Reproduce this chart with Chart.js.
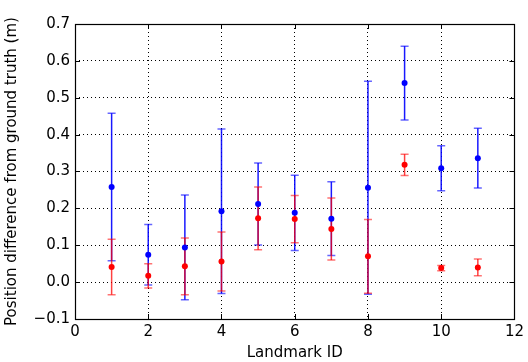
<!DOCTYPE html>
<html>
<head>
<meta charset="utf-8">
<script src="https://cdn.jsdelivr.net/npm/chart.js@4/dist/chart.umd.min.js"></script>
<style>
  html, body { margin: 0; padding: 0; background: #fff; }
  #wrap { width: 528px; height: 362px; }
</style>
</head>
<body>
<div id="wrap"><canvas id="errChart"></canvas></div>
<script>
// landmark ids and measured position differences (m)
const landmarks = [1, 2, 3, 4, 5, 6, 7, 8, 9, 10, 11];
const blueMean = [0.258, 0.074, 0.094, 0.192, 0.212, 0.188, 0.172, 0.256, 0.540, 0.309, 0.336];
const blueErr  = [0.200, 0.082, 0.142, 0.223, 0.111, 0.102, 0.100, 0.289, 0.100, 0.061, 0.081];
const redMean  = [0.041, 0.017, 0.043, 0.056, 0.173, 0.171, 0.144, 0.070, 0.318, 0.038, 0.040];
const redErr   = [0.075, 0.033, 0.077, 0.080, 0.085, 0.064, 0.084, 0.100, 0.029, 0.007, 0.023];
const xTicks = [0, 2, 4, 6, 8, 10, 12];
const yTicks = [-0.1, 0, 0.1, 0.2, 0.3, 0.4, 0.5, 0.6, 0.7];

const toPoints = (ys, errs) => landmarks.map((x, i) => ({ x: x, y: ys[i], err: errs[i] }));

const errorBars = {
  id: 'errorBars',
  beforeDatasetsDraw(chart) {
    const { ctx, scales: { x, y } } = chart;
    const styles = [
      { ds: 1, color: 'rgba(0,0,255,0.9)', cap: 'rgba(0,0,255,0.6)' },
      { ds: 0, color: 'rgba(255,0,0,0.75)', cap: 'rgba(255,0,0,0.55)' }
    ];
    ctx.save();
    ctx.lineWidth = 1.5;
    styles.forEach(s => {
      chart.data.datasets[s.ds].data.forEach(p => {
        const px = x.getPixelForValue(p.x);
        const top = y.getPixelForValue(p.y + p.err);
        const bot = y.getPixelForValue(p.y - p.err);
        ctx.strokeStyle = s.color;
        ctx.beginPath();
        ctx.moveTo(px, top);
        ctx.lineTo(px, bot);
        ctx.stroke();
        ctx.strokeStyle = s.cap;
        ctx.beginPath();
        ctx.moveTo(px - 4, top); ctx.lineTo(px + 4, top);
        ctx.moveTo(px - 4, bot); ctx.lineTo(px + 4, bot);
        ctx.stroke();
      });
    });
    ctx.restore();
  },
  afterDraw(chart) {
    const { ctx, chartArea: a, scales: { x, y } } = chart;
    ctx.save();
    ctx.strokeStyle = '#000';
    ctx.lineWidth = 1;
    // inward ticks on all sides
    ctx.beginPath();
    xTicks.forEach(v => {
      const px = Math.round(x.getPixelForValue(v)) + 0.5;
      ctx.moveTo(px, a.bottom); ctx.lineTo(px, a.bottom - 5);
      ctx.moveTo(px, a.top); ctx.lineTo(px, a.top + 5);
    });
    yTicks.forEach(v => {
      const py = Math.round(y.getPixelForValue(v)) + 0.5;
      ctx.moveTo(a.left, py); ctx.lineTo(a.left + 5, py);
      ctx.moveTo(a.right, py); ctx.lineTo(a.right - 5, py);
    });
    ctx.stroke();
    ctx.lineWidth = 1.2;
    ctx.strokeRect(Math.round(a.left) + 0.5, Math.round(a.top) + 0.5,
      Math.round(a.right - a.left), Math.round(a.bottom - a.top));
    ctx.restore();
  }
};

Chart.defaults.font.family = '"DejaVu Sans", sans-serif';
Chart.defaults.color = '#000';

new Chart(document.getElementById('errChart').getContext('2d'), {
  type: 'scatter',
  data: {
    datasets: [
      {
        label: 'red',
        data: toPoints(redMean, redErr),
        backgroundColor: 'rgb(255,0,0)',
        borderWidth: 0,
        pointRadius: 3
      },
      {
        label: 'blue',
        data: toPoints(blueMean, blueErr),
        backgroundColor: 'rgb(0,0,255)',
        borderWidth: 0,
        pointRadius: 3
      }
    ]
  },
  options: {
    responsive: true,
    maintainAspectRatio: false,
    animation: false,
    layout: { padding: { top: 24, right: 9, left: 0, bottom: 0 } },
    plugins: {
      legend: { display: false },
      tooltip: { enabled: false }
    },
    scales: {
      x: {
        type: 'linear',
        min: 0,
        max: 12,
        afterBuildTicks: s => { s.ticks = xTicks.map(v => ({ value: v })); },
        afterFit: s => { s.height = 43; },
        ticks: { font: { size: 15 }, padding: 4, maxRotation: 0 },
        grid: { color: '#000', lineWidth: 1, drawTicks: false, tickLength: 0 },
        border: { display: false, dash: [1, 3] },
        title: { display: true, text: 'Landmark ID', font: { size: 15 }, padding: { top: 0, bottom: 0 } }
      },
      y: {
        min: -0.1,
        max: 0.7,
        afterBuildTicks: s => { s.ticks = yTicks.map(v => ({ value: v })); },
        afterFit: s => { s.width = 75; },
        ticks: {
          font: { size: 15 },
          padding: 5,
          callback: v => (Math.abs(v) < 1e-9 ? '0.0' : v.toFixed(1).replace('-', '\u2212'))
        },
        grid: { color: '#000', lineWidth: 1, drawTicks: false, tickLength: 0 },
        border: { display: false, dash: [1, 3] },
        title: { display: true, text: 'Position difference from ground truth (m)', font: { size: 15 }, padding: { top: 3, bottom: 0 } }
      }
    }
  },
  plugins: [errorBars]
});
</script>
</body>
</html>
